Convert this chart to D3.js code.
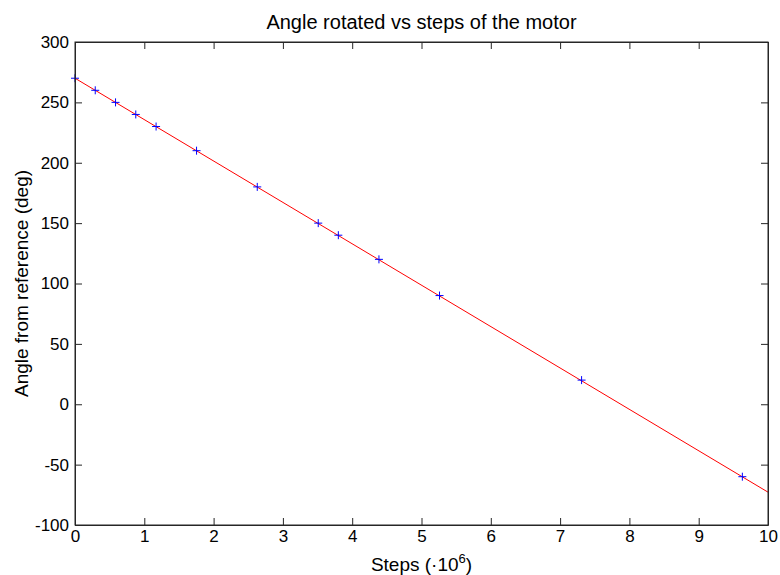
<!DOCTYPE html>
<html><head><meta charset="utf-8">
<script src="https://cdn.jsdelivr.net/npm/d3@7"></script>
<style>body{margin:0;background:#fff}svg{display:block}text{font-family:"Liberation Sans",Arial,sans-serif}</style>
</head><body>
<script>
const stepsM = [0, 0.292, 0.585, 0.877, 1.17, 1.754, 2.63, 3.51, 3.80, 4.386, 5.26, 7.31, 9.63];
const angles = [270, 260, 250, 240, 230, 210, 180, 150, 140, 120, 90, 20, -60];
const fitX = [0, 10];
const fitY = [270, -72.8];
const xTicks = [0,1,2,3,4,5,6,7,8,9,10];
const yTicks = [-100,-50,0,50,100,150,200,250,300];

const W=780,H=575, L=75,R=768,T=42,B=525;
const svg=d3.select("body").append("svg").attr("width",W).attr("height",H);
const x=d3.scaleLinear().domain([0,10]).range([L,R]);
const y=d3.scaleLinear().domain([-100,300]).range([B,T]);
const axCol="#262626";
const fmt=d=>String(d);

// fit line
svg.append("path").datum(fitX.map((v,i)=>[v,fitY[i]]))
  .attr("d",d3.line().x(d=>x(d[0])).y(d=>y(d[1])))
  .attr("fill","none").attr("stroke","#ff0000").attr("stroke-width",1);

// markers
const ms=4;
const g=svg.append("g");
stepsM.forEach((s,i)=>{
  const cx=x(s), cy=y(angles[i]);
  g.append("line").attr("x1",cx-ms).attr("x2",cx+ms).attr("y1",cy).attr("y2",cy).attr("stroke","#0000ff").attr("stroke-width",1);
  g.append("line").attr("x1",cx).attr("x2",cx).attr("y1",cy-ms).attr("y2",cy+ms).attr("stroke","#0000ff").attr("stroke-width",1);
});

// axes (ticks inside)
const tl=7;
const bx=svg.append("g").attr("transform",`translate(0,${B})`).call(d3.axisBottom(x).tickValues(xTicks).tickFormat(fmt).tickSizeInner(-tl).tickSizeOuter(0).tickPadding(5));
const tx=svg.append("g").attr("transform",`translate(0,${T})`).call(d3.axisTop(x).tickValues(xTicks).tickFormat("").tickSizeInner(-tl).tickSizeOuter(0));
const ly=svg.append("g").attr("transform",`translate(${L},0)`).call(d3.axisLeft(y).tickValues(yTicks).tickFormat(fmt).tickSizeInner(-tl).tickSizeOuter(0).tickPadding(6));
const ry=svg.append("g").attr("transform",`translate(${R},0)`).call(d3.axisRight(y).tickValues(yTicks).tickFormat("").tickSizeInner(-tl).tickSizeOuter(0));
[bx,tx,ly,ry].forEach(a=>{
  a.selectAll("path,line").attr("stroke",axCol);
  a.selectAll("text").attr("fill","#000").style("font-size","17px").style("font-family","'Liberation Sans',Arial,sans-serif");
});
svg.append("rect").attr("x",L).attr("y",T).attr("width",R-L).attr("height",B-T).attr("fill","none").attr("stroke",axCol);

// title & labels
svg.append("text").attr("x",(L+R)/2).attr("y",29).attr("text-anchor","middle").style("font-size","20px").text("Angle rotated vs steps of the motor");
const xl=svg.append("text").attr("x",(L+R)/2).attr("y",571).attr("text-anchor","middle").style("font-size","19px");
xl.append("tspan").text("Steps (\u00b710");
xl.append("tspan").attr("dy",-8).style("font-size","13px").text("6");
xl.append("tspan").attr("dy",8).text(")");
svg.append("text").attr("transform",`translate(28,${(T+B)/2}) rotate(-90)`).attr("text-anchor","middle").style("font-size","19px").text("Angle from reference (deg)");
</script>
</body></html>
